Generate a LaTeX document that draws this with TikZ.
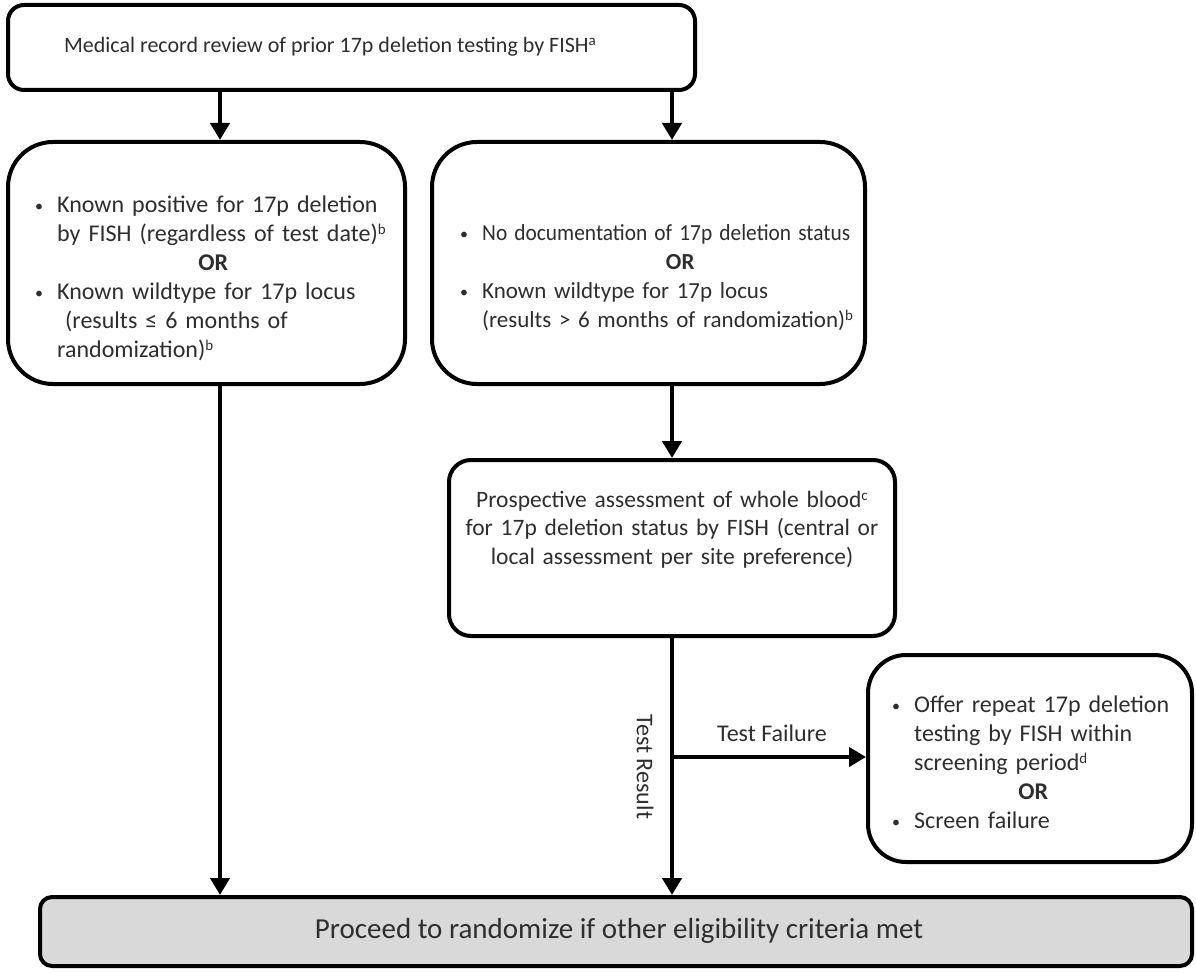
\documentclass[tikz,border=0pt]{standalone}
\usepackage{fontspec}
\setmainfont{Carlito}
\usetikzlibrary{arrows.meta}
\newcommand{\bul}{\makebox[22pt][l]{\raisebox{1pt}{\fontsize{16}{16}\selectfont •}}}
\newcommand{\ind}{\hspace*{22pt}}
\newcommand{\sps}[1]{\raisebox{7pt}{\fontsize{15}{15}\selectfont #1}}
\begin{document}
\begin{tikzpicture}[x=1pt,y=-1pt,
  box/.style={draw=black, line width=4pt, inner sep=0pt, fill=white},
  arr/.style={line width=4.5pt, -{Triangle[width=19pt,length=17pt]}},
  txt/.style={inner sep=0pt, text=black!82, font=\fontsize{24}{29}\selectfont},
  blk/.style={txt, align=left, anchor=base west},
]
\useasboundingbox (0,0) rectangle (1196,973);

% boxes
\node[box, rounded corners=16pt, minimum width=687pt, minimum height=85pt] (top) at (351.5,47.5) {};
\node[box, rounded corners=45pt, minimum width=397pt, minimum height=242pt] (left) at (206.5,263) {};
\node[box, rounded corners=45pt, minimum width=433pt, minimum height=242pt] (mid) at (648.5,263) {};
\node[box, rounded corners=22pt, minimum width=446pt, minimum height=176pt] (proc) at (672,548) {};
\node[box, rounded corners=38pt, minimum width=324pt, minimum height=207pt] (right) at (1030,758.5) {};
\node[box, rounded corners=12pt, minimum width=1152pt, minimum height=69pt, fill={rgb,255:red,217;green,217;blue,217}] (bottom) at (616,931.5) {};

% texts
\node[txt, font=\fontsize{22}{26}\selectfont] (toptext) at (330,47) {Medical record review of prior 17p deletion testing by FISH\sps{a}};

\node[blk, text width=360pt] (lefttext) at (35,213) {\bul Known positive for 17p deletion\\
\ind by FISH (regardless of test date)\sps{b}\\
\makebox[356pt]{\textbf{OR}}\\
\bul Known wildtype for 17p locus\\
\ind\ (results ≤ 6 months of\\
\ind randomization)\sps{b}};

\node[blk, text width=440pt, font=\fontsize{23}{29}\selectfont] (midtext) at (460,241) {\bul \scalebox{0.93}[1]{No documentation\ of 17p deletion status}\\
\makebox[440pt]{\textbf{OR}}\\
\bul Known wildtype for 17p locus\\
\ind (results > 6 months of randomization)\sps{b}};

\node[txt, align=center, text width=440pt, anchor=base, font=\fontsize{23.5}{28.5}\selectfont] (proctext) at (672,507) {Prospective assessment of whole blood\sps{c}\\
for 17p deletion status by FISH (central or\\
local assessment per site preference)};

\node[blk, text width=300pt] (righttext) at (892,712) {\bul Offer repeat 17p deletion\\
\ind testing by FISH within\\
\ind screening period\sps{d}\\
\makebox[282pt]{\textbf{OR}}\\
\bul Screen failure};

\node[txt, font=\fontsize{29}{33}\selectfont] (bottomtext) at (619,931) {Proceed to randomize if other eligibility criteria met};

% connectors
\coordinate (xa) at (220,0);
\coordinate (xb) at (672,0);
\coordinate (split) at (672,757);
\draw[arr] (top.south -| xa) -- (left.north -| xa);
\draw[arr] (top.south -| xb) -- (mid.north -| xb);
\draw[arr] (mid.south -| xb) -- (proc.north -| xb);
\draw[arr] (left.south -| xa) -- (bottom.north -| xa);
\draw[arr] (proc.south -| xb) -- (bottom.north -| xb);
\draw[arr] (split) -- (right.west |- split);

\node[txt, rotate=-90] (testresult) at (645,767) {Test Result};
\node[txt] (testfailure) at (772,733) {Test Failure};
\end{tikzpicture}
\end{document}
